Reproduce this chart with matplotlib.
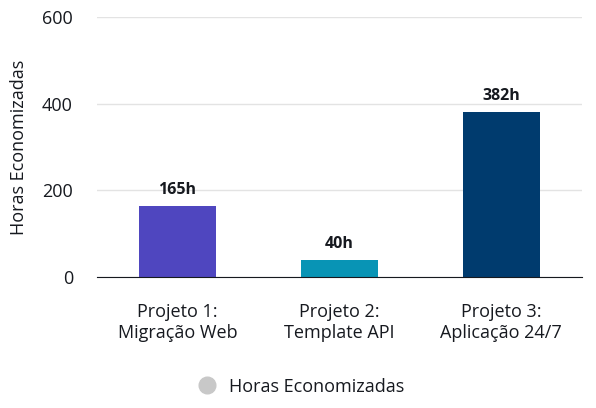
import matplotlib
matplotlib.use("Agg")
import matplotlib.pyplot as plt
from matplotlib.lines import Line2D

# dados do gráfico
projetos = ["Projeto 1:\nMigração Web", "Projeto 2:\nTemplate API", "Projeto 3:\nAplicação 24/7"]
horas = [165, 40, 382]
rotulos = ["165h", "40h", "382h"]
cores = ["#4f46bf", "#0894b5", "#003b6e"]
yticks = [0, 200, 400, 600]

plt.rcParams["font.family"] = ["Open Sans", "DejaVu Sans"]
cor_texto = "#16191f"

fig = plt.figure(figsize=(5.96, 4.08), dpi=100)
ax = fig.add_axes([0.162, 0.321, 0.815, 0.637])

x = range(len(projetos))
ax.bar(x, horas, width=0.475, color=cores, zorder=3)
for i, (h, r) in enumerate(zip(horas, rotulos)):
    ax.text(i, h + 18, r, ha="center", va="bottom", fontsize=11.5, fontweight="bold", color=cor_texto)

ax.set_xlim(-0.5, 2.5)
ax.set_ylim(0, 600)
ax.set_yticks(yticks)
ax.set_xticks(list(x))
ax.set_xticklabels(projetos, fontsize=13, color=cor_texto, linespacing=1.2)
ax.tick_params(axis="y", labelsize=13, colors=cor_texto, length=0, pad=17)
ax.tick_params(axis="x", length=0, pad=19)
ax.set_ylabel("Horas Economizadas", fontsize=13, color=cor_texto, labelpad=10)

ax.grid(axis="y", color="#e3e3e3", linewidth=1, zorder=0)
for s in ["top", "right", "left"]:
    ax.spines[s].set_visible(False)
ax.spines["bottom"].set_color(cor_texto)
ax.spines["bottom"].set_zorder(4)

handle = Line2D([], [], marker="o", linestyle="none", markersize=12,
                markerfacecolor="#c8c8c8", markeredgecolor="#c8c8c8")
fig.legend([handle], ["Horas Economizadas"], loc="center", bbox_to_anchor=(0.498, 0.052),
           frameon=False, fontsize=13, handletextpad=0.2, labelcolor=cor_texto)

fig.savefig("out.png", dpi=100)
